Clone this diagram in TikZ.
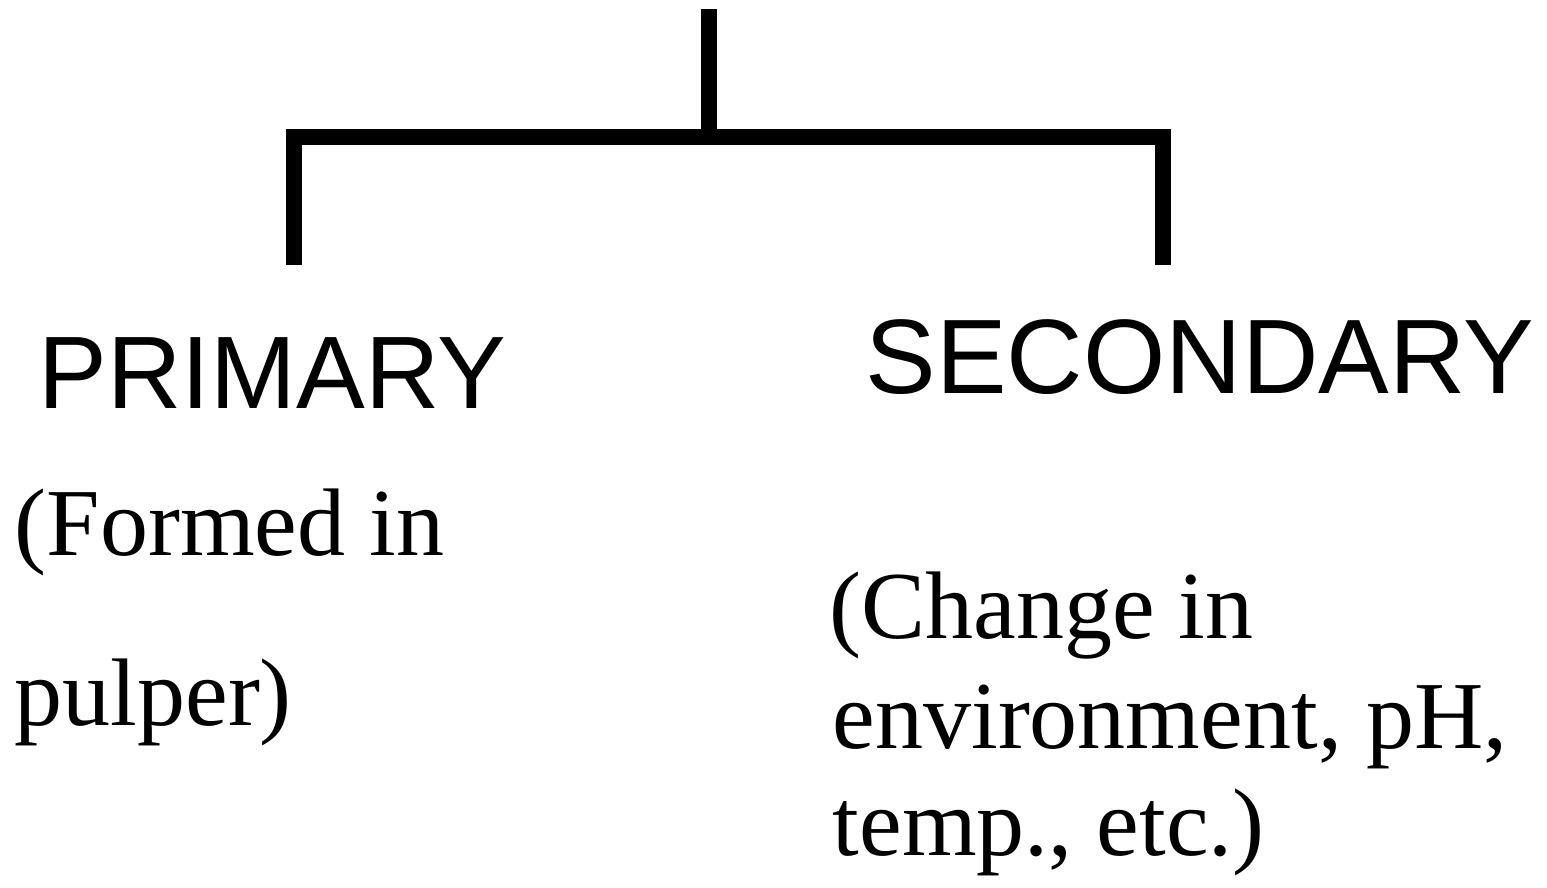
\documentclass[tikz,border=0pt]{standalone}
\usepackage{fontspec}
\setmainfont{Liberation Serif}
\newfontfamily\headfont{Liberation Sans}
\usepackage{tikz}

\begin{document}
\begin{tikzpicture}[x=0.01cm,y=-0.01cm,
    bar/.style={line width=0.16cm, line join=miter},
    head/.style={anchor=base west, inner sep=0pt, font=\headfont\fontsize{29.3}{35}\selectfont},
    note/.style={anchor=base west, inner sep=0pt, font=\fontsize{27.3}{33}\selectfont}]
    \useasboundingbox (0,0) rectangle (1547,887);

    % Points
    \coordinate (top) at (709,9);
    \coordinate (mid) at (709,137);
    \coordinate (L) at (294,137);
    \coordinate (R) at (1163,137);
    \coordinate (Lend) at (294,265);
    \coordinate (Rend) at (1163,265);

    % Branches
    \draw[bar] (top) -- (mid);
    \draw[bar] (Lend) -- (L) -- (R) -- (Rend);

    % Titres
    \node[head] (primary) at (38,408) {PRIMARY};
    \node[head, font=\headfont\fontsize{30.1}{36}\selectfont] (secondary) at (865,393) {SECONDARY};

    % Notes
    \node[note] (formed) at (14,555) {(Formed in};
    \node[note] (pulper) at (14,725) {pulper)};
    \node[note] (change) at (829,638) {(Change in};
    \node[note] (environ) at (832,748) {environment, pH,};
    \node[note] (temp) at (832,855) {temp., etc.)};
\end{tikzpicture}
\end{document}
